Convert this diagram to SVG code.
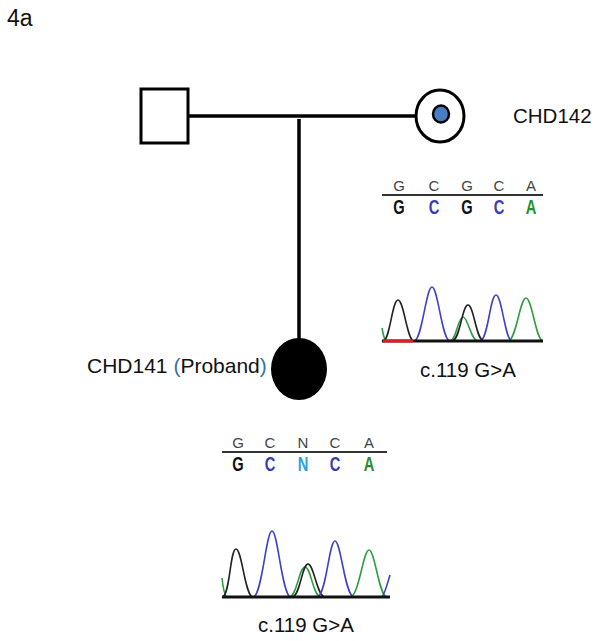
<svg xmlns="http://www.w3.org/2000/svg" width="601" height="641" viewBox="0 0 601 641">
<style>
.lbl{font-family:"Liberation Sans",Arial,sans-serif;font-size:20.5px;fill:#111}
.big{font-family:"Liberation Sans",Arial,sans-serif;font-size:23px;fill:#111}
.up{font-family:"Liberation Sans Narrow","Liberation Sans",Arial,sans-serif;font-size:15px;fill:#444;text-anchor:middle}
.lo{font-family:"Liberation Sans",Arial,sans-serif;font-size:21px;font-weight:bold;text-anchor:middle}
.ln{stroke:#000;stroke-width:3.5;fill:none}
.pk{fill:none;stroke-width:1.6}
.k{stroke:#222}.b{stroke:#4040c8}.g{stroke:#2e9e40}
</style>
<rect width="601" height="641" fill="#fff"/>
<text x="7" y="26" class="big">4a</text>
<g id="connectors">
<line class="ln" x1="188" y1="116" x2="415" y2="116"/>
<line class="ln" x1="299" y1="119" x2="299" y2="340"/>
</g>
<g id="father">
<rect x="141" y="89" width="47" height="54" fill="#fff" stroke="#000" stroke-width="3"/>
</g>
<g id="mother">
<ellipse cx="440" cy="116" rx="24" ry="26" fill="#fff" stroke="#000" stroke-width="3"/>
<ellipse cx="441" cy="114" rx="8" ry="8.5" fill="#4a7ec4" stroke="#000" stroke-width="2.5"/>
<text x="513" y="123" class="lbl">CHD142</text>
</g>
<g id="proband">
<ellipse cx="299" cy="369" rx="28" ry="31" fill="#000"/>
<text x="87" y="373" class="lbl" style="font-size:21px">CHD141 <tspan fill="#3a6fb0">(</tspan>Proband<tspan fill="#3a6fb0">)</tspan></text>
</g>
<g id="seq-mother">
<text class="up" x="399" y="191">G</text><text class="up" x="434" y="191">C</text><text class="up" x="467" y="191">G</text><text class="up" x="499" y="191">C</text><text class="up" x="531" y="191">A</text>
<line x1="382" y1="195" x2="543" y2="195" stroke="#333" stroke-width="1.8"/>
<text class="lo" transform="translate(399,214) scale(0.7,1)" fill="#111">G</text>
<text class="lo" transform="translate(434,214) scale(0.7,1)" fill="#3a3ab4">C</text>
<text class="lo" transform="translate(467,214) scale(0.7,1)" fill="#111">G</text>
<text class="lo" transform="translate(499,214) scale(0.7,1)" fill="#3a3ab4">C</text>
<text class="lo" transform="translate(531,214) scale(0.7,1)" fill="#2a8a30">A</text>
</g>
<g id="chrom-mother">
<path class="pk g" d="M382,328 C383,334 384,339 386,341"/>
<path class="pk k" d="M383,341 C390,341 392,300 398,300 C404,300 407,341 414,341"/>
<path class="pk b" d="M414,341 C422,341 426,287 432,287 C438,287 442,341 450,341"/>
<path class="pk g" d="M450,341 C456,341 458,317 463,317 C468,317 471,341 478,341"/>
<path class="pk k" d="M452,341 C460,341 462,305 468,305 C474,305 476,341 484,341"/>
<path class="pk b" d="M480,341 C488,341 490,295 496,295 C502,295 505,341 512,341"/>
<path class="pk g" d="M508,341 C516,341 520,298 526,298 C532,298 536,341 543,341"/>
<line x1="382" y1="341" x2="543" y2="341" stroke="#111" stroke-width="3"/>
<line x1="383" y1="341" x2="413" y2="341" stroke="#e02020" stroke-width="3"/>
<text x="420" y="377" class="lbl">c.119 G&gt;A</text>
</g>
<g id="seq-proband">
<text class="up" x="238" y="448">G</text><text class="up" x="270" y="448">C</text><text class="up" x="303" y="448">N</text><text class="up" x="335" y="448">C</text><text class="up" x="369" y="448">A</text>
<line x1="222" y1="452" x2="387" y2="452" stroke="#333" stroke-width="1.8"/>
<text class="lo" transform="translate(238,471) scale(0.7,1)" fill="#111">G</text>
<text class="lo" transform="translate(270,471) scale(0.7,1)" fill="#3a3ab4">C</text>
<text class="lo" transform="translate(303,471) scale(0.7,1)" fill="#2aa0e0">N</text>
<text class="lo" transform="translate(335,471) scale(0.7,1)" fill="#3a3ab4">C</text>
<text class="lo" transform="translate(369,471) scale(0.7,1)" fill="#2a8a30">A</text>
</g>
<g id="chrom-proband">
<path class="pk g" d="M222,578 C223,588 224,595 227,597"/>
<path class="pk k" d="M222,597 C230,597 230,549 236,549 C242,549 245,597 253,597"/>
<path class="pk b" d="M253,597 C262,597 266,531 272,531 C278,531 282,597 291,597"/>
<path class="pk g" d="M289,597 C297,597 299,567 305,567 C311,567 313,597 321,597"/>
<path class="pk k" d="M292,597 C300,597 302,564 308,564 C314,564 317,597 325,597"/>
<path class="pk b" d="M317,597 C326,597 329,541 335,541 C341,541 345,597 354,597"/>
<path class="pk g" d="M350,597 C359,597 363,550 369,550 C375,550 379,597 387,597"/>
<path class="pk b" d="M382,597 C385,593 387,585 390,575"/>
<line x1="222" y1="597" x2="390" y2="597" stroke="#111" stroke-width="3"/>
<text x="258" y="632" class="lbl">c.119 G&gt;A</text>
</g>
</svg>
